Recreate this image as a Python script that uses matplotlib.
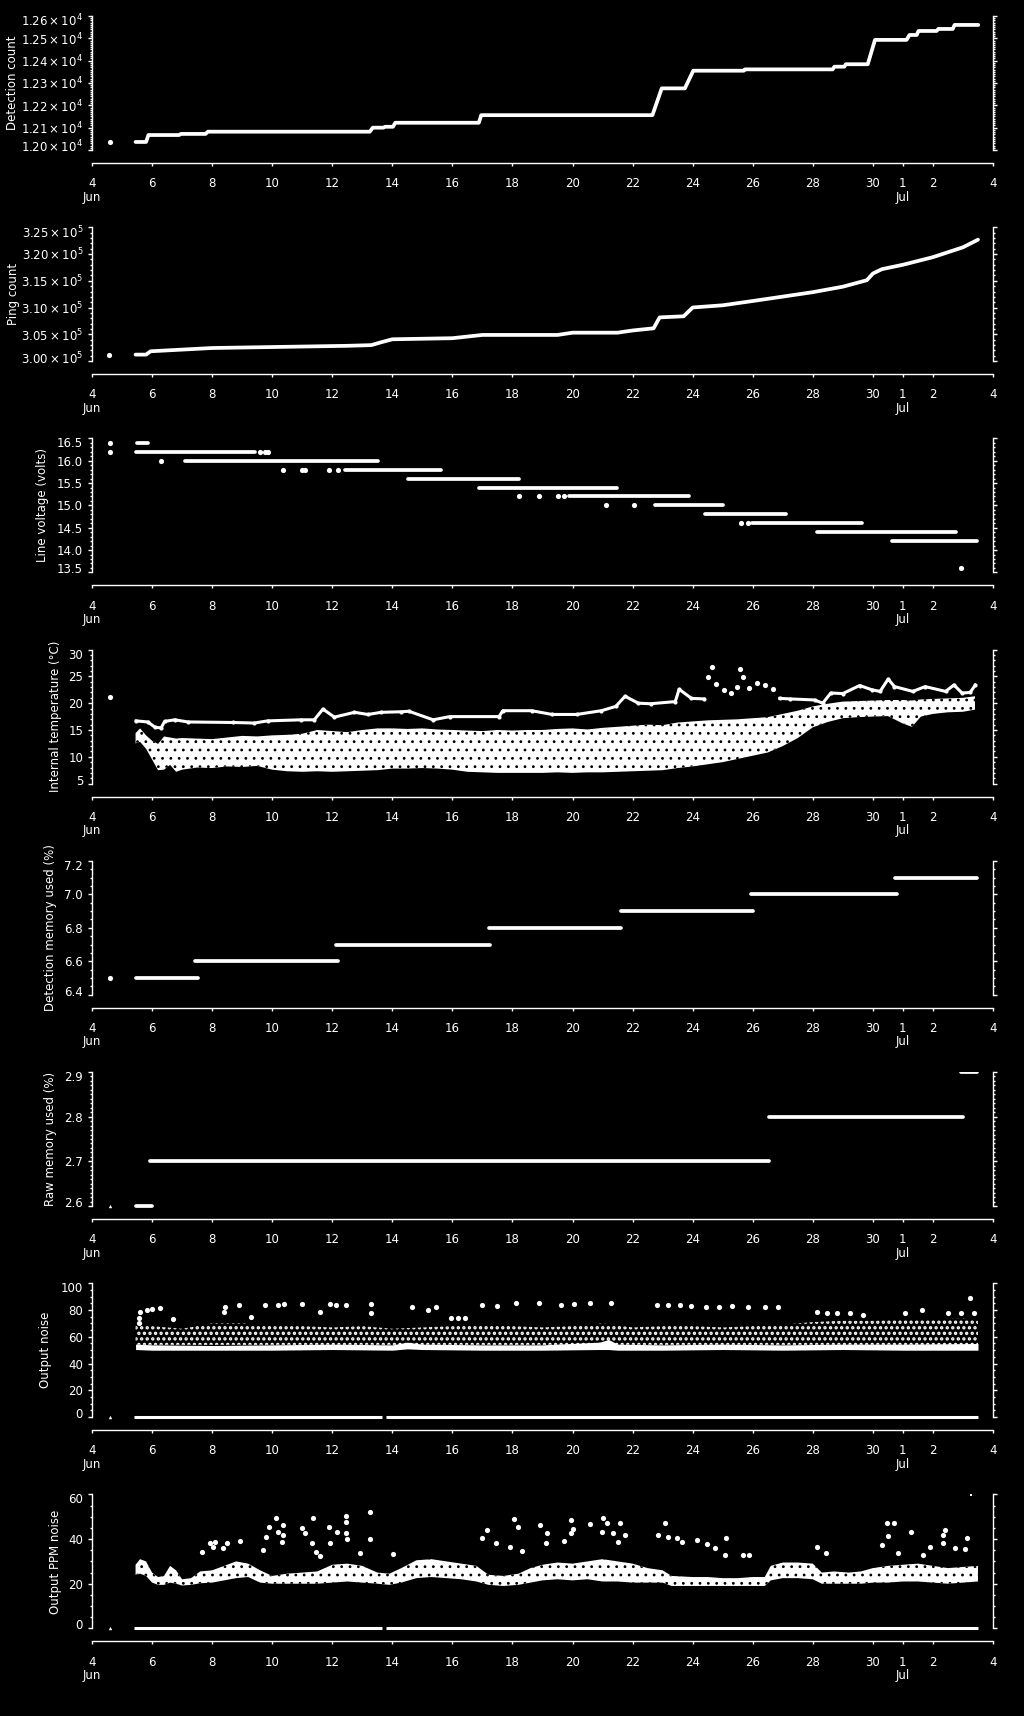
import matplotlib
matplotlib.use("Agg")
import matplotlib.pyplot as plt
from matplotlib.transforms import ScaledTranslation

plt.rcParams['font.family'] = ['DejaVu Sans']
plt.rcParams['hatch.linewidth'] = 1.0

# ---------------- data (x = day of June; 1 Jul = 31) ----------------
x_ticks = [4, 6, 8, 10, 12, 14, 16, 18, 20, 22, 24, 26, 28, 30, 31, 32, 34]
x_labels = ['4\nJun', '6', '8', '10', '12', '14', '16', '18', '20', '22', '24',
            '26', '28', '30', '1\nJul', '2', '4']

# Panel 1: detection count
det_first = (4.60, 12036)
det_day = [5.45, 5.80, 5.88, 6.90, 6.96, 7.78, 7.86, 13.25, 13.35, 13.70, 13.76, 14.02,
           14.10, 16.88, 16.96, 22.66, 22.97, 23.74, 24.02, 25.70, 25.74, 28.66, 28.72,
           29.05, 29.10, 29.83, 30.07, 31.12, 31.22, 31.46, 31.52, 32.12, 32.18, 32.66,
           32.72, 33.51]
det_val = [12036, 12036, 12067, 12067, 12072, 12072, 12082, 12082, 12100, 12100, 12104,
           12104, 12122, 12122, 12156, 12156, 12276, 12276, 12355, 12355, 12361, 12361,
           12373, 12373, 12384, 12384, 12493, 12493, 12515, 12515, 12533, 12533, 12542,
           12542, 12560, 12560]

# Panel 2: ping count
ping_first = (4.55, 301230)
ping_day = [5.45, 5.80, 5.95, 8.0, 12.5, 13.3, 13.6, 14.0, 16.0, 17.0, 19.5, 20.0, 21.5,
            22.0, 22.7, 22.9, 23.7, 24.0, 25.0, 26.0, 27.0, 28.0, 29.0, 29.8, 30.0, 30.3,
            31.0, 32.0, 33.0, 33.5]
ping_val = [301230, 301230, 301850, 302460, 302870, 303000, 303490, 304090, 304290,
            304900, 304900, 305320, 305320, 305730, 306140, 308170, 308380, 310020,
            310430, 311230, 312050, 312880, 313900, 315110, 316350, 317170, 317990,
            319410, 321250, 322670]

# Panel 3: line voltage levels (level, start day, end day)
volt_lvl = [16.4, 16.2, 16.0, 15.8, 15.6, 15.4, 15.2, 15.0, 14.8, 14.6, 14.4, 14.2]
volt_t0 = [5.49, 5.45, 7.10, 12.42, 14.51, 16.89, 19.87, 22.76, 24.40, 25.98, 28.15, 30.65]
volt_t1 = [5.87, 9.43, 13.53, 15.61, 18.23, 21.48, 23.89, 25.02, 27.10, 29.63, 32.77, 33.47]
volt_pt_day = [4.60, 4.60, 9.60, 9.75, 9.87, 6.30, 10.37, 10.99, 11.10, 11.90, 12.18,
               18.23, 18.89, 19.52, 19.73, 21.13, 22.05, 25.60, 25.85, 32.94]
volt_pt_val = [16.4, 16.2, 16.2, 16.2, 16.2, 16.0, 15.8, 15.8, 15.8, 15.8, 15.8,
               15.2, 15.2, 15.2, 15.2, 15.0, 15.0, 14.6, 14.6, 13.6]

# Panel 4: internal temperature
temp_first = (4.60, 21.2)
temp_up_day = [5.47, 5.86, 6.10, 6.30, 6.42, 6.75, 7.20, 8.70, 9.40, 9.85, 10.96, 11.40,
               11.69, 12.07, 12.74, 13.19, 13.63, 14.30, 14.55, 15.36, 15.91, 17.55, 17.68,
               18.64, 19.32, 20.14, 20.96, 21.44, 21.75, 22.19, 22.60, 23.42, 23.55, 23.96,
               24.37]
temp_up_val = [16.7, 16.5, 15.5, 15.4, 16.6, 16.9, 16.5, 16.4, 16.3, 16.7, 16.9, 16.9,
               18.9, 17.4, 18.3, 17.9, 18.3, 18.4, 18.5, 16.9, 17.5, 17.5, 18.6, 18.6,
               17.9, 17.9, 18.6, 19.4, 21.3, 20.0, 19.9, 20.3, 22.6, 20.9, 20.8]
temp_sc_day = [24.51, 24.65, 24.78, 25.05, 25.26, 25.46, 25.57, 25.67, 25.87, 26.15, 26.42,
               26.69]
temp_sc_val = [24.8, 26.7, 23.6, 22.5, 21.9, 23.1, 26.4, 24.8, 22.8, 23.7, 23.4, 22.6]
temp_up2_day = [26.90, 27.24, 28.06, 28.33, 28.60, 29.00, 29.56, 29.97, 30.24, 30.51, 30.72,
                31.33, 31.74, 32.42, 32.70, 32.97, 33.24, 33.41]
temp_up2_val = [20.9, 20.8, 20.6, 20.0, 21.9, 21.8, 23.3, 22.5, 22.2, 24.5, 23.1, 22.2,
                23.1, 22.2, 23.4, 21.9, 22.0, 23.4]
temp_cl_day = [5.45, 5.6, 5.8, 6.0, 6.2, 6.4, 6.6, 6.8, 7.0, 7.5, 8.0, 8.5, 9.0, 9.5, 10.0,
               10.5, 11.0, 11.5, 12.0, 12.5, 13.0, 13.5, 14.0, 14.5, 15.0, 15.5, 16.0, 16.5,
               17.0, 17.5, 18.0, 18.5, 19.0, 19.5, 20.0, 20.5, 21.0, 21.5, 22.0, 22.5, 23.0,
               23.5, 24.0, 24.5, 25.0, 25.5, 26.0, 26.5, 27.0, 27.5, 28.0, 28.5, 29.0, 29.5,
               30.0, 30.5, 31.0, 31.3, 31.6, 32.0, 32.5, 33.0, 33.4]
temp_cl_lo = [12.5, 12.8, 11.5, 9.5, 7.5, 7.6, 8.5, 7.2, 7.6, 8.0, 7.9, 8.2, 8.1, 8.3, 7.6,
              7.3, 7.2, 7.3, 7.2, 7.3, 7.4, 7.5, 7.8, 7.8, 7.9, 7.8, 7.6, 7.2, 7.1, 7.0, 7.0,
              7.0, 7.0, 7.1, 7.0, 7.1, 7.1, 7.2, 7.3, 7.4, 7.5, 7.9, 8.2, 8.6, 9.0, 9.6, 10.2,
              10.8, 12.0, 13.5, 15.5, 16.5, 17.2, 17.4, 17.5, 17.6, 16.2, 15.6, 17.5, 18.0,
              18.3, 18.4, 18.8]
temp_cl_hi = [14.4, 15.3, 14.0, 13.0, 12.4, 13.8, 13.6, 13.4, 13.5, 13.4, 13.3, 13.6, 13.9,
              13.8, 14.0, 14.1, 14.3, 15.0, 14.8, 14.6, 15.0, 15.3, 15.3, 15.2, 15.3, 15.1,
              15.0, 14.9, 14.8, 15.0, 14.9, 15.0, 15.0, 15.2, 15.3, 15.1, 15.4, 15.6, 15.8,
              16.0, 15.9, 16.4, 16.6, 16.8, 16.9, 17.0, 17.2, 17.4, 18.0, 18.6, 19.4, 19.9,
              20.3, 20.4, 20.5, 20.6, 20.6, 20.5, 20.7, 20.8, 20.9, 21.0, 21.3]

# Panel 5: detection memory used (%)
dmem_first = (4.60, 6.5)
dmem_lvl = [6.5, 6.6, 6.7, 6.8, 6.9, 7.0, 7.1]
dmem_t0 = [5.45, 7.43, 12.13, 17.22, 21.63, 25.94, 30.75]
dmem_t1 = [7.52, 12.20, 17.25, 21.63, 26.00, 30.82, 33.48]

# Panel 6: raw memory used (%)
rmem_first = (4.60, 2.6)
rmem_lvl = [2.6, 2.7, 2.8, 2.9]
rmem_t0 = [5.45, 5.93, 26.55, 32.93]
rmem_t1 = [6.00, 26.55, 33.00, 33.48]

# Panel 7: output noise
zero_t0 = [5.40, 13.80]
zero_t1 = [13.66, 33.50]
on_band_day = [5.45, 6.0, 8.0, 10.0, 12.0, 14.0, 14.5, 15.0, 17.0, 19.0, 20.9, 21.2, 21.5,
               23.0, 25.0, 27.0, 29.0, 31.0, 33.5]
on_band_lo = [50.5, 50.0, 50.0, 50.0, 50.5, 50.0, 51.0, 50.5, 50.0, 50.0, 50.5, 50.5, 50.0,
              50.0, 50.5, 50.0, 50.5, 50.0, 50.0]
on_band_hi = [54.5, 54.0, 53.5, 54.0, 54.5, 54.0, 56.0, 54.5, 54.0, 54.0, 56.0, 58.0, 54.5,
              54.0, 54.5, 54.0, 54.5, 54.5, 55.0]
on_cloud_day = [5.45, 6.0, 7.0, 8.0, 9.0, 10.0, 11.0, 12.0, 13.0, 14.0, 15.0, 16.0, 17.0,
                18.0, 19.0, 20.0, 21.0, 22.0, 23.0, 24.0, 25.0, 26.0, 27.0, 28.0, 29.0, 30.0,
                31.0, 32.0, 33.0, 33.5]
on_cloud_lo = [54, 54, 54, 54, 54, 54, 54, 54, 54, 54, 54, 54, 54, 54, 54, 54, 54, 54, 54,
               54, 54, 54, 54, 54, 54, 54, 54, 54, 54, 54]
on_cloud_hi = [70, 68, 66, 70, 70, 68, 68, 67, 68, 66, 67, 68, 69, 68, 67, 68, 70, 67, 68,
               68, 67, 68, 69, 71, 72, 72, 73, 73, 74, 72]
on_out_day = [5.61, 5.83, 5.99, 6.27, 5.55, 5.57, 6.70, 8.38, 8.44, 8.88, 9.31, 9.75, 10.19,
              10.40, 10.99, 11.60, 11.93, 12.14, 12.47, 13.28, 13.28, 14.65, 15.19, 15.47,
              15.95, 16.17, 16.43, 16.97, 17.48, 18.13, 18.89, 19.61, 20.04, 20.57, 21.28,
              22.81, 23.18, 23.57, 23.94, 24.44, 24.87, 25.31, 25.85, 26.40, 26.83, 28.14,
              28.47, 28.79, 29.23, 29.66, 31.08, 31.62, 32.49, 32.93, 33.25, 33.36]
on_out_val = [78.8, 80.0, 80.5, 81.2, 70.5, 73.8, 73.0, 78.8, 82.5, 83.7, 75.0, 83.7, 83.7,
              84.5, 84.5, 78.8, 84.5, 83.7, 83.7, 84.5, 77.5, 82.0, 80.0, 82.5, 73.8, 73.8,
              73.8, 83.7, 83.0, 85.0, 85.0, 83.7, 84.5, 85.0, 85.0, 83.7, 83.7, 83.7, 83.0,
              82.5, 82.5, 83.0, 82.0, 82.0, 82.0, 78.8, 78.0, 77.5, 77.5, 76.3, 78.0, 80.0,
              78.0, 78.0, 88.7, 77.5]

# Panel 8: output PPM noise
ppm_day = [5.45, 5.6, 5.8, 6.0, 6.2, 6.4, 6.6, 6.8, 7.0, 7.3, 7.6, 8.0, 8.4, 8.8, 9.2, 9.6,
           10.0, 10.5, 11.0, 11.5, 12.0, 12.5, 13.0, 13.5, 13.9, 14.3, 14.8, 15.3, 15.8,
           16.3, 16.8, 17.2, 17.7, 18.2, 18.6, 19.0, 19.5, 20.0, 20.5, 21.0, 21.5, 22.0,
           22.5, 23.0, 23.3, 24.0, 24.5, 25.0, 25.5, 26.0, 26.4, 26.6, 27.0, 27.5, 28.0,
           28.3, 28.7, 29.2, 29.6, 30.0, 30.5, 31.0, 31.5, 32.0, 32.5, 33.0, 33.5]
ppm_lo = [24.0, 24.5, 23.5, 20.5, 19.5, 19.5, 20.5, 20.0, 19.2, 19.5, 20.2, 20.5, 21.5, 22.5,
          23.0, 20.5, 20.0, 20.0, 20.0, 20.0, 20.5, 21.0, 20.5, 20.0, 19.5, 20.5, 22.5, 23.0,
          22.5, 22.0, 21.0, 19.5, 19.0, 19.5, 20.5, 21.5, 22.0, 21.5, 22.0, 21.0, 21.0, 20.5,
          20.5, 20.5, 19.0, 19.0, 19.0, 19.0, 19.0, 19.0, 19.0, 21.5, 22.5, 22.5, 22.0, 20.0,
          20.0, 20.0, 20.0, 20.5, 20.5, 21.0, 21.0, 20.5, 20.0, 20.5, 21.0]
ppm_hi = [28.5, 31.0, 30.0, 25.0, 23.0, 23.5, 28.0, 26.0, 22.0, 22.5, 25.5, 26.0, 28.0, 30.0,
          29.0, 26.0, 23.5, 24.5, 25.0, 25.5, 28.5, 29.0, 28.0, 25.0, 24.5, 27.0, 30.5, 31.0,
          30.0, 29.0, 28.0, 24.0, 23.5, 24.5, 27.0, 28.5, 29.5, 29.0, 30.0, 31.0, 30.0, 29.0,
          27.0, 26.0, 23.5, 23.0, 23.0, 22.5, 22.5, 23.0, 23.0, 28.0, 29.5, 29.5, 29.0, 25.0,
          25.5, 25.0, 25.5, 27.0, 28.0, 28.5, 29.0, 28.0, 27.0, 27.5, 28.0]
ppm_out_day = [7.93, 8.10, 8.04, 8.37, 8.51, 7.65, 8.93, 9.90, 10.13, 9.81, 10.20, 10.35,
               10.37, 9.71, 10.32, 10.98, 11.09, 11.37, 11.31, 11.46, 11.59, 11.90, 11.93,
               12.17, 12.46, 12.46, 12.46, 12.48, 12.92, 13.24, 13.24, 14.03, 17.14, 16.98,
               17.45, 18.06, 18.20, 17.92, 18.31, 18.92, 19.14, 19.10, 19.70, 19.94, 20.03,
               19.94, 20.58, 21.00, 21.14, 20.97, 21.58, 21.34, 21.75, 21.53, 23.08, 22.86,
               23.19, 23.47, 23.64, 24.14, 24.47, 24.75, 25.11, 25.08, 25.69, 25.86, 28.15,
               28.44, 30.46, 30.72, 30.50, 30.30, 31.26, 30.85, 32.41, 32.35, 32.33, 32.74,
               33.13, 33.07, 31.91, 31.68]
ppm_out_val = [38.4, 38.8, 36.6, 35.9, 38.4, 34.4, 39.3, 45.6, 49.6, 41.1, 43.3, 46.3, 41.8,
               35.1, 38.8, 44.8, 42.6, 49.3, 38.1, 34.4, 32.4, 45.6, 38.1, 43.3, 50.3, 47.8,
               42.6, 39.9, 33.9, 52.3, 39.9, 33.3, 44.1, 40.7, 38.4, 49.0, 45.6, 36.6, 34.7,
               46.3, 42.6, 38.4, 39.2, 48.5, 44.3, 42.8, 46.6, 49.3, 47.4, 43.3, 47.4, 42.6,
               41.8, 38.8, 47.0, 41.8, 41.1, 40.4, 38.8, 39.6, 37.6, 35.9, 40.7, 33.0, 33.0,
               33.0, 36.6, 33.9, 47.4, 47.4, 41.4, 37.2, 43.3, 33.6, 44.1, 41.8, 38.1, 35.9,
               40.4, 35.4, 36.6, 33.0]
ppm_top = (33.26, 59.9)

# axis ranges / ticks
ranges = [(12000, 12600), (300000, 325000), (13.5, 16.5), (5, 30), (6.4, 7.2),
          (2.6, 2.9), (0, 100), (0, 60)]
major_step = [100, 5000, 0.5, 5, 0.2, 0.1, 20, 20]
minor_div = [10, 5, 5, 5, 4, 10, 4, 4]
ylabels = ['Detection count', 'Ping count', 'Line voltage (volts)',
           'Internal temperature (°C)', 'Detection memory used (%)',
           'Raw memory used (%)', 'Output noise', 'Output PPM noise']
ylabel_x = [12.5, 13, 42.5, 56, 51, 51, 46, 55]


def ytick_fmt(i, v):
    if i == 0:
        return r'$\mathregular{%.2f\times10^{4}}$' % (v / 1e4)
    if i == 1:
        return r'$\mathregular{%.2f\times10^{5}}$' % (v / 1e5)
    if i in (2, 4, 5):
        return '%.1f' % v
    return '%d' % round(v)


W, H = 1024, 1716
fig = plt.figure(figsize=(W / 100, H / 100), dpi=100, facecolor='black')
FS = 8.5
axes = []
for k in range(8):
    top = 16 + 211.2 * k
    bot = 150 + 211.2 * k
    xax = 163 + 211.2 * k
    ax = fig.add_axes([92 / W, 1 - xax / H, 901 / W, (xax - top) / H])
    ax.set_facecolor('black')
    lo, hi = ranges[k]
    span = hi - lo
    ax.set_ylim(lo - span * (xax - bot) / (bot - top), hi)
    ax.set_xlim(4, 34)
    for s in ['left', 'right', 'bottom']:
        ax.spines[s].set_color('white')
        ax.spines[s].set_linewidth(1)
    ax.spines['top'].set_visible(False)
    ax.spines['left'].set_bounds(lo, hi)
    ax.spines['right'].set_bounds(lo, hi)
    nmaj = int(round(span / major_step[k]))
    maj = [lo + i * major_step[k] for i in range(nmaj + 1)]
    nmin = nmaj * minor_div[k]
    mino = [lo + i * span / nmin for i in range(nmin + 1)]
    ax.set_yticks(maj)
    ax.set_yticklabels([ytick_fmt(k, v) for v in maj])
    ax.set_yticks(mino, minor=True)
    ax.set_xticks(x_ticks)
    ax.set_xticklabels(x_labels)
    ax.tick_params(axis='y', which='major', length=2.8, width=1, colors='white',
                   direction='out', right=True, labelright=False, labelsize=FS, pad=3.6)
    ax.tick_params(axis='y', which='minor', length=1.6, width=1, colors='white',
                   direction='out', right=True)
    ax.tick_params(axis='x', which='major', length=2.2, width=1, colors='white',
                   direction='out', labelsize=FS, pad=8)
    for t in ax.get_xticklabels():
        t.set_linespacing(1.05)
    # end labels sit slightly inside the axis ends
    mt = ax.yaxis.get_major_ticks()
    mt[0].label1.set_transform(mt[0].label1.get_transform() +
                               ScaledTranslation(0, 4 / 100, fig.dpi_scale_trans))
    mt[-1].label1.set_transform(mt[-1].label1.get_transform() +
                                ScaledTranslation(0, -4 / 100, fig.dpi_scale_trans))
    fig.text(ylabel_x[k] / W, 1 - (top + bot) / 2 / H, ylabels[k], rotation=90,
             color='white', fontsize=FS, ha='center', va='center')
    axes.append(ax)

LW = 2.7
kw = dict(color='white', lw=LW, solid_capstyle='round')
dot = dict(color='white', s=14, linewidths=0)


def holes(coll, lw):
    try:
        coll.set_hatch_linewidth(lw)
    except AttributeError:
        pass


# 1
ax = axes[0]
ax.plot(det_day, det_val, **kw)
ax.scatter([det_first[0]], [det_first[1]], **dot)
# 2
ax = axes[1]
ax.plot(ping_day, ping_val, **kw)
ax.scatter([ping_first[0]], [ping_first[1]], **dot)
# 3
ax = axes[2]
ax.hlines(volt_lvl, volt_t0, volt_t1, color='white', lw=LW, capstyle='round')
ax.scatter(volt_pt_day, volt_pt_val, **dot)
# 4
ax = axes[3]
c = ax.fill_between(temp_cl_day, temp_cl_lo, temp_cl_hi, facecolor='white',
                    edgecolor='black', hatch='..', linewidth=0)
holes(c, 0.8)
ax.plot(temp_up_day, temp_up_val, color='white', lw=2.2, marker='o', ms=3, mew=0)
ax.plot(temp_up2_day, temp_up2_val, color='white', lw=2.2, marker='o', ms=3, mew=0)
ax.scatter(temp_sc_day, temp_sc_val, **dot)
ax.scatter([temp_first[0]], [temp_first[1]], **dot)
# 5
ax = axes[4]
ax.hlines(dmem_lvl, dmem_t0, dmem_t1, color='white', lw=LW, capstyle='round')
ax.scatter([dmem_first[0]], [dmem_first[1]], **dot)
# 6
ax = axes[5]
ax.hlines(rmem_lvl, rmem_t0, rmem_t1, color='white', lw=LW, capstyle='round')
ax.scatter([rmem_first[0]], [rmem_first[1]], color='white', s=6, marker='^', linewidths=0)
# 7
ax = axes[6]
ax.hlines([0, 0], zero_t0, zero_t1, color='white', lw=2.2)
ax.scatter([4.60], [0], color='white', s=6, marker='^', linewidths=0)
c = ax.fill_between(on_cloud_day, on_cloud_lo, on_cloud_hi, facecolor='none',
                    edgecolor='white', hatch='...', linewidth=0)
holes(c, 1.6)
ax.fill_between(on_band_day, on_band_lo, on_band_hi, color='white', linewidth=0)
ax.scatter(on_out_day, on_out_val, **dot)
# 8
ax = axes[7]
ax.hlines([0, 0], zero_t0, zero_t1, color='white', lw=2.2)
ax.scatter([4.60], [0], color='white', s=6, marker='^', linewidths=0)
c = ax.fill_between(ppm_day, ppm_lo, ppm_hi, facecolor='white', edgecolor='black',
                    hatch='..', linewidth=0)
holes(c, 0.8)
ax.scatter(ppm_out_day, ppm_out_val, **dot)
ax.scatter([ppm_top[0]], [ppm_top[1]], color='white', s=4, marker='s', linewidths=0)

fig.savefig('out.png', dpi=100, facecolor='black')
